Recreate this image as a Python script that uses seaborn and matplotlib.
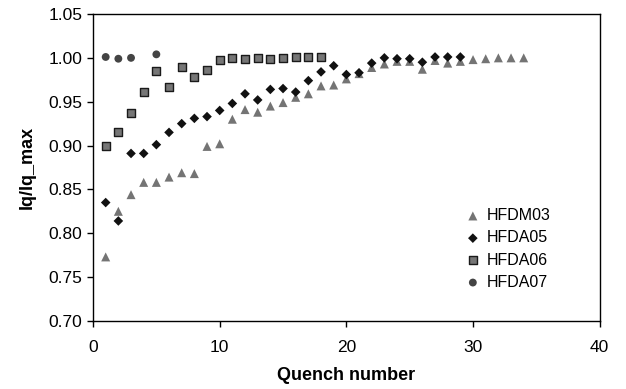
import matplotlib
matplotlib.use("Agg")
import matplotlib.pyplot as plt
import seaborn as sns
import pandas as pd

# Data
hfdm03_x = list(range(1, 35))
hfdm03_y = [0.773, 0.825, 0.844, 0.858, 0.858, 0.864, 0.869, 0.868, 0.899, 0.902,
            0.930, 0.941, 0.938, 0.945, 0.949, 0.955, 0.959, 0.968, 0.969, 0.976,
            0.982, 0.989, 0.993, 0.996, 0.996, 0.987, 0.997, 0.994, 0.996, 0.998,
            0.999, 1.000, 1.000, 1.000]

hfda05_x = list(range(1, 30))
hfda05_y = [0.835, 0.814, 0.891, 0.891, 0.901, 0.915, 0.925, 0.931, 0.933, 0.940,
            0.948, 0.959, 0.952, 0.964, 0.965, 0.961, 0.974, 0.984, 0.991, 0.981,
            0.983, 0.994, 1.000, 0.999, 0.999, 0.995, 1.001, 1.001, 1.001]

hfda06_x = list(range(1, 19))
hfda06_y = [0.900, 0.915, 0.937, 0.961, 0.985, 0.967, 0.990, 0.978, 0.986, 0.997,
            1.000, 0.999, 1.000, 0.999, 1.000, 1.001, 1.001, 1.001]

hfda07_x = [1, 2, 3, 5]
hfda07_y = [1.001, 0.999, 1.000, 1.004]

y_ticks = [0.70, 0.75, 0.80, 0.85, 0.90, 0.95, 1.00, 1.05]
x_ticks = [0, 10, 20, 30, 40]

sns.set_style("ticks")
plt.rcParams['font.family'] = ['Liberation Sans', 'DejaVu Sans']
plt.rcParams['text.color'] = 'black'
plt.rcParams['axes.labelcolor'] = 'black'
plt.rcParams['xtick.color'] = 'black'
plt.rcParams['ytick.color'] = 'black'

fig = plt.figure(figsize=(6.26, 3.89), dpi=100)
ax = fig.add_axes([0.1486, 0.175, 0.8094, 0.789])

# (name, x, y, marker, face, edge, size)
series = [
    ("HFDM03", hfdm03_x, hfdm03_y, "^", "#747474", "none", 42),
    ("HFDA05", hfda05_x, hfda05_y, "D", "#111111", "none", 24),
    ("HFDA06", hfda06_x, hfda06_y, "s", "#767676", "#1a1a1a", 34),
    ("HFDA07", hfda07_x, hfda07_y, "o", "#444444", "none", 32),
]

for name, xs, ys, mk, fc, ec, s in series:
    df = pd.DataFrame({"x": xs, "y": ys})
    sns.scatterplot(data=df, x="x", y="y", marker=mk, color=fc,
                    edgecolor=ec, linewidth=1.0 if ec != "none" else 0,
                    s=s, label=name, ax=ax, zorder=3)

ax.set_xlim(0, 40)
ax.set_ylim(0.70, 1.05)
ax.set_xticks(x_ticks)
ax.set_yticks(y_ticks)
ax.set_yticklabels([f"{v:.2f}" for v in y_ticks])
ax.tick_params(direction="out", length=4.5, width=1, labelsize=12.5, color="black")
ax.tick_params(axis="x", pad=9)
ax.tick_params(axis="y", pad=3)

for sp in ax.spines.values():
    sp.set_visible(True)
    sp.set_color("black")
    sp.set_linewidth(1.0)

ax.set_xlabel("Quench number", fontsize=13, fontweight="bold", labelpad=9)
ax.set_ylabel("Iq/Iq_max", fontsize=13, fontweight="bold", labelpad=9)

leg = ax.legend(loc="center left", bbox_to_anchor=(0.737, 0.2345), frameon=False,
                fontsize=11.5, handlelength=0.8, handletextpad=0.5,
                borderpad=0, borderaxespad=0, labelspacing=0.45)

fig.savefig("out.png", dpi=100)
